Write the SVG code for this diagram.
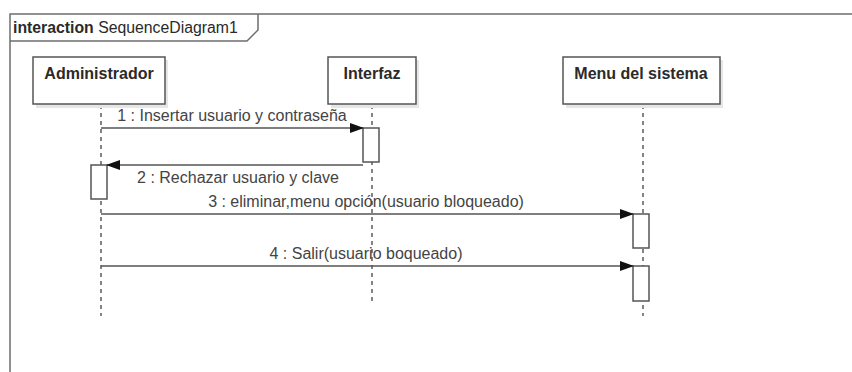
<svg xmlns="http://www.w3.org/2000/svg" width="852" height="372" viewBox="0 0 852 372">
<defs>
<marker id="arr" markerWidth="14" markerHeight="10" refX="13" refY="5" orient="auto" markerUnits="userSpaceOnUse">
<path d="M0,0 L14,5 L0,10 Z" fill="#111"/>
</marker>
</defs>
<style>
.frame{fill:none;stroke:#6e6e6e;stroke-width:1.5}
.box{fill:#fff;stroke:#555;stroke-width:1.5}
.shadow{fill:#e6e6e6}
.hdr{font-family:"Liberation Sans",Arial,sans-serif;font-weight:bold;font-size:16px;fill:#2a2a2a;text-anchor:middle}
.lbl{font-family:"Liberation Sans",Arial,sans-serif;font-size:16px;fill:#444;text-anchor:middle}
.life{stroke:#333;stroke-width:1.2;stroke-dasharray:4,4}
.act{fill:#fff;stroke:#555;stroke-width:1.5}
.msg{stroke:#555;stroke-width:1.5;fill:none}
</style>
<rect width="852" height="372" fill="#fff"/>
<g id="frame">
<path class="frame" d="M10,372 V14 H852"/>
<path class="frame" d="M10,41 H247 L258,30 V14"/>
<text x="13" y="33" font-family="Liberation Sans,Arial,sans-serif" font-size="15.8px" fill="#2a2a2a"><tspan font-weight="bold">interaction</tspan> SequenceDiagram1</text>
</g>
<g id="lifelines">
<line class="life" x1="101" y1="105" x2="101" y2="316"/>
<line class="life" x1="372" y1="105" x2="372" y2="302"/>
<line class="life" x1="643" y1="105" x2="643" y2="316"/>
</g>
<g id="administrador">
<rect class="shadow" x="36" y="60" width="132" height="48"/>
<rect class="box" x="33" y="57" width="132" height="47"/>
<text class="hdr" x="99" y="79">Administrador</text>
</g>
<g id="interfaz">
<rect class="shadow" x="331" y="60" width="88" height="48"/>
<rect class="box" x="328" y="57" width="88" height="47"/>
<text class="hdr" x="372" y="79">Interfaz</text>
</g>
<g id="menu">
<rect class="shadow" x="566" y="60" width="157" height="48"/>
<rect class="box" x="563" y="57" width="157" height="47"/>
<text class="hdr" x="641" y="79">Menu del sistema</text>
</g>
<g id="activations">
<rect class="act" x="363" y="128" width="16" height="34"/>
<rect class="act" x="91" y="165" width="16" height="34"/>
<rect class="act" x="633" y="214" width="16" height="34"/>
<rect class="act" x="633" y="266" width="16" height="35"/>
</g>
<g id="connectors">
<line class="msg" x1="101" y1="128" x2="363" y2="128" marker-end="url(#arr)"/>
<line class="msg" x1="363" y1="165" x2="107" y2="165" marker-end="url(#arr)"/>
<line class="msg" x1="101" y1="214" x2="633" y2="214" marker-end="url(#arr)"/>
<line class="msg" x1="101" y1="266" x2="633" y2="266" marker-end="url(#arr)"/>
<text class="lbl" x="232" y="121">1 : Insertar usuario y contraseña</text>
<text class="lbl" x="238" y="183">2 : Rechazar usuario y clave</text>
<text class="lbl" x="366" y="207">3 : eliminar,menu opción(usuario bloqueado)</text>
<text class="lbl" x="366" y="259">4 : Salir(usuario boqueado)</text>
</g>
</svg>
